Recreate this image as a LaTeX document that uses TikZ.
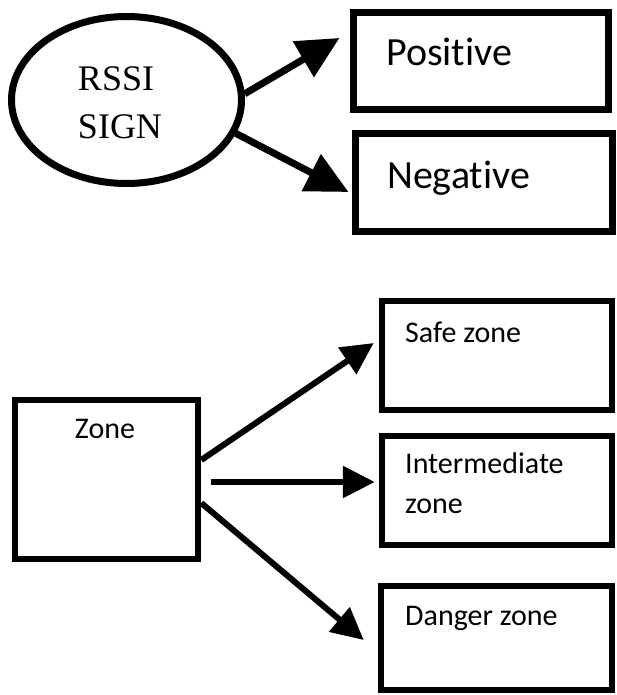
\documentclass[tikz,border=0pt]{standalone}
\usepackage{fontspec}
\setmainfont{Carlito}[Ligatures={NoCommon,NoContextual}]
\newfontfamily\serifcap{Liberation Serif}
\usetikzlibrary{shapes.geometric,arrows.meta}
\tikzset{
  bigbox/.style={draw, line width=7pt, rectangle, inner sep=0pt},
  smallbox/.style={draw, line width=6.5pt, rectangle, inner sep=0pt},
  bigtxt/.style={inner sep=0pt, font=\fontsize{40}{48}\selectfont, anchor=base west},
  smalltxt/.style={inner sep=0pt, font=\fontsize{30}{40}\selectfont},
  bigarrow/.style={line width=7pt, -{Triangle[length=42pt,width=40pt]}},
  smallarrow/.style={line width=6pt, -{Triangle[length=32pt,width=31pt]}}
}
\begin{document}
\begin{tikzpicture}[x=1pt,y=-1pt]
\useasboundingbox (0,0) rectangle (616,695);
% top part
\node[draw, ellipse, line width=7pt, minimum width=230pt, minimum height=167pt, inner sep=0pt] (rssi) at (126.5,100) {};
\node[inner sep=0pt, align=left, font=\serifcap\fontsize{36}{48}\selectfont] (rssitxt) at (120,103) {RSSI\\SIGN};
\node[bigbox, minimum width=255pt, minimum height=97pt] (pos) at (481,61) {};
\node[bigbox, minimum width=257pt, minimum height=98pt] (neg) at (484,182.5) {};
\node[bigtxt] (postxt) at (386,66) {Positive};
\node[bigtxt] (negtxt) at (387,188) {Negative};
\draw[bigarrow] (rssi.3.4) -- ([xshift=-10.5pt,yshift=23pt]pos.west);
\draw[bigarrow] (rssi.343) -- ([xshift=-3.5pt,yshift=-9.5pt]neg.west);
% bottom part
\node[smallbox, minimum width=183pt, minimum height=159pt] (zone) at (106.5,479.5) {};
\node[smalltxt, anchor=base] (zonetxt) at (105,438) {Zone};
\node[smallbox, minimum width=230pt, minimum height=109pt] (safe) at (497,355.5) {};
\node[smalltxt, anchor=base west] (safetxt) at (405,342) {Safe zone};
\node[smallbox, minimum width=230pt, minimum height=109pt] (inter) at (497,490.5) {};
\node[smalltxt, anchor=base west, align=left] (intertxt) at (405,513) {Intermediate\\zone};
\node[smallbox, minimum width=231pt, minimum height=104pt] (danger) at (496.5,638) {};
\node[smalltxt, anchor=base west] (dangertxt) at (405,625) {Danger zone};
\draw[smallarrow] ([yshift=19.5pt]zone.east) -- ([xshift=-5pt,yshift=12.5pt]safe.west);
\draw[smallarrow] ([xshift=10pt,yshift=-2.5pt]zone.east) -- ([xshift=-4pt,yshift=8.5pt]inter.west);
\draw[smallarrow] ([yshift=-23.5pt]zone.east) -- ([xshift=-14pt,yshift=-2pt]danger.west);
\end{tikzpicture}
\end{document}
